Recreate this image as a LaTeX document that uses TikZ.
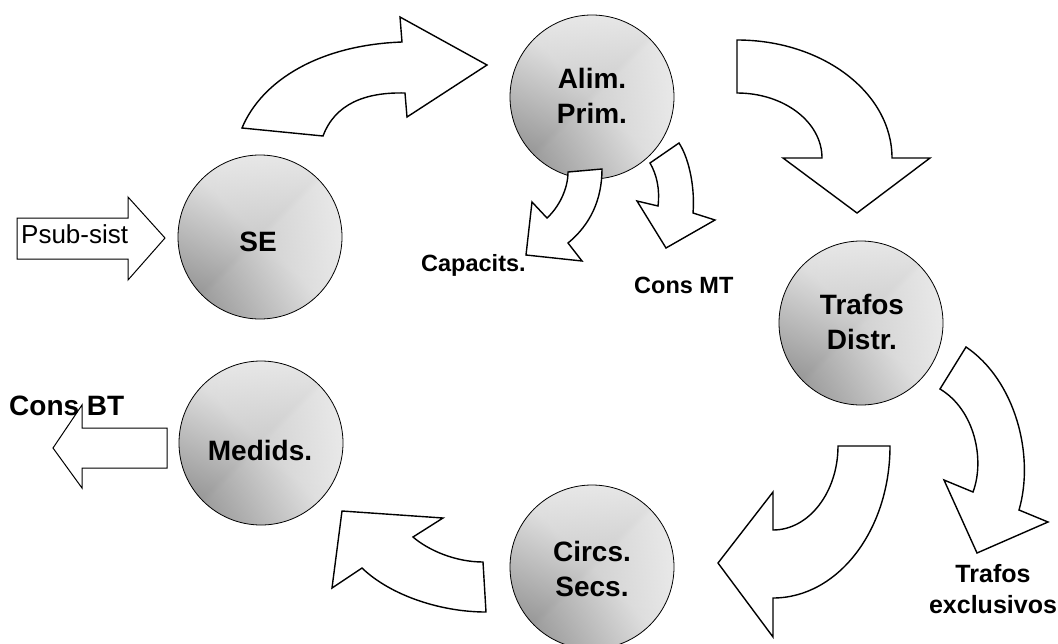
\documentclass[tikz,border=0pt]{standalone}
\usepackage{fontspec}
\setmainfont{Liberation Sans}
\definecolor{gA}{gray}{0.90}
\definecolor{gAd}{gray}{0.75}
\definecolor{gAe}{gray}{0.79}
\definecolor{gBa}{gray}{0.45}
\definecolor{gBb}{gray}{0.86}
\definecolor{gBc}{gray}{1.0}
\pgfdeclarehorizontalshading{shA}{100bp}{color(0bp)=(gA); color(25bp)=(gA); color(49bp)=(gAd); color(51bp)=(gAe); color(75bp)=(gA); color(100bp)=(gA)}
\pgfdeclarehorizontalshading{shB}{100bp}{color(0bp)=(gBa); color(25bp)=(gBa); color(50bp)=(gBb); color(75bp)=(gBc); color(100bp)=(gBc)}
\newcommand\ballat[3]{%
  \shade[shading=shA, shading angle=-45] (#2,#3) circle[radius=82pt];
  \shade[shading=shB, shading angle=45, fill opacity=0.5] (#2,#3) circle[radius=82pt];
  \node[ball] (#1) at (#2,#3) {};}
\begin{document}
\begin{tikzpicture}[x=1pt,y=-1pt,
  ball/.style={circle, draw, line width=0.8pt, minimum size=164pt, inner sep=0pt},
  blockarrow/.style={draw, fill=white, line width=1.4pt, line join=miter, miter limit=10},
  bigtxt/.style={font=\bfseries\fontsize{28}{35}\selectfont, align=center, inner sep=0pt},
  smalltxt/.style={font=\bfseries\fontsize{23.5}{28}\selectfont, inner sep=0pt},
  sidetxt/.style={font=\bfseries\fontsize{25}{31}\selectfont, align=center, inner sep=0pt},
]
\useasboundingbox (0,0) rectangle (1058,643);

% spheres
\ballat{se}{260}{237}
\ballat{alim}{592}{97}
\ballat{trafos}{861}{323}
\ballat{medids}{261}{443}
\ballat{circs}{592}{567}

% side straight arrows
\draw[blockarrow, line width=1pt] (17,218) -- (128,218) -- (128,197) -- (165,238) -- (128,280) -- (128,259) -- (17,259) -- cycle;
\draw[blockarrow, line width=1pt] (167,428) -- (82,428) -- (82,405) -- (53,448) -- (82,488) -- (82,468) -- (167,468) -- cycle;

% curved arrows
\draw[blockarrow] (242,128) .. controls (262,80) and (320,45) .. (402,42) -- (400,17) -- (487,65) -- (407,117) -- (405,93) .. controls (365,92) and (335,104) .. (323,136) -- cycle;
\draw[blockarrow] (737,40) .. controls (822.6,40) and (892,92.8) .. (892,158) -- (930,158) -- (857,213) -- (783,158) -- (822,158) .. controls (822,122) and (784,93) .. (737,93) -- cycle;
\draw[blockarrow] (940,389) -- (966,347) .. controls (1015,380) and (1035,455) .. (1019,510) -- (1048,522) -- (977,553) -- (944,480) -- (973,492) .. controls (985,460) and (975,410) .. (940,389) -- cycle;
\draw[blockarrow] (838,446) -- (890,446) .. controls (890,530) and (838,598) .. (773,598) -- (773,637) -- (718,563) -- (773,492) -- (773,530) .. controls (809,530) and (838,492) .. (838,446) -- cycle;
\draw[blockarrow] (483,562) -- (486,612) .. controls (440,612) and (390,595) .. (362,568) -- (332,588) -- (342,511) -- (443,518) -- (413,537) .. controls (428,550) and (455,562) .. (483,562) -- cycle;
\draw[blockarrow] (568,172) -- (602,169) .. controls (602,200) and (590,225) .. (568,243) -- (582,261) -- (526,255) -- (532,202) -- (547,218) .. controls (558,208) and (568,190) .. (568,172) -- cycle;
\draw[blockarrow] (650,163) -- (679,143) .. controls (690,160) and (695,190) .. (693,213) -- (715,220) -- (666,248) -- (637,201) -- (658,206) .. controls (660,190) and (657,175) .. (650,163) -- cycle;

% texts in spheres
\node[bigtxt] (se-t) at (258,242) {SE};
\node[bigtxt] (alim-t) at (592,95.4) {Alim.\\Prim.};
\node[bigtxt] (trafos-t) at (862,322.4) {Trafos\\Distr.};
\node[bigtxt] (medids-t) at (260,450) {Medids.};
\node[bigtxt] (circs-t) at (592,569.4) {Circs.\\Secs.};

% outer labels
\node[anchor=base west, inner sep=0pt, font=\fontsize{26}{31}\selectfont] (psub) at (21,243) {Psub-sist};
\node[anchor=base west, inner sep=0pt, font=\bfseries\fontsize{28}{34}\selectfont] (consbt) at (9,415) {Cons BT};
\node[smalltxt, anchor=base west] (capac) at (421,271) {Capacits.};
\node[smalltxt, anchor=base west] (consmt) at (634,293) {Cons MT};
\node[sidetxt] (trexcl) at (993,589) {Trafos\\exclusivos};
\end{tikzpicture}
\end{document}
